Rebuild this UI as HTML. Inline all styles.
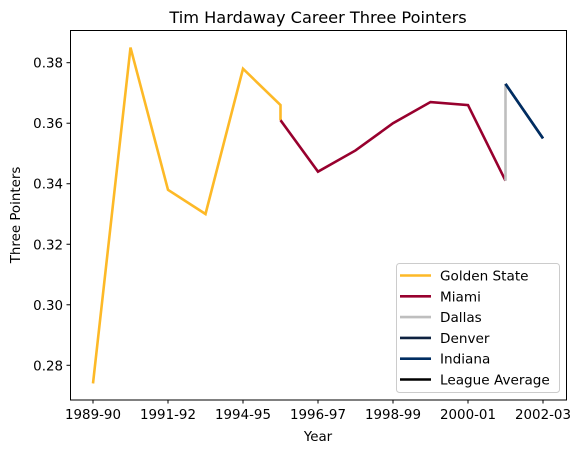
<!DOCTYPE html>
<html><head><meta charset="utf-8"><style>
body{margin:0;background:#fff}
svg{font-family:"DejaVu Sans","Liberation Sans",sans-serif;display:block}
</style></head><body>
<svg id="chart" width="582" height="453">
<text x="318" y="23" text-anchor="middle" font-size="16.2">Tim Hardaway Career Three Pointers</text>
<g id="plot"></g>
<rect x="70.5" y="30.5" width="496" height="369.5" fill="none" stroke="#000" stroke-width="1"/>
<text x="318" y="441" text-anchor="middle" font-size="13.4">Year</text>
<text transform="translate(20,215) rotate(-90)" text-anchor="middle" font-size="13.4">Three Pointers</text>
<g>
<rect x="396.5" y="263.5" width="163" height="129" rx="3" fill="#fff" fill-opacity="0.8" stroke="#ccc"/>
<g id="legend-items"></g>
</g>
</svg>
<script>
const xTickLabels=["1989-90","1991-92","1994-95","1996-97","1998-99","2000-01","2002-03"];
const xTickIdx=[0,2,4,6,8,10,12];
const yTicks=[0.28,0.30,0.32,0.34,0.36,0.38];
const seriesNames=["Golden State","Miami","Dallas","Denver","Indiana","League Average"];
const seriesColors=["#FDB927","#98002E","#BEBEBE","#0E2240","#002D62","#000000"];
const gsX=[0,1,2,3,4,5,5];
const gsY=[0.274,0.385,0.338,0.330,0.378,0.366,0.361];
const miaX=[5,6,7,8,9,10,11];
const miaY=[0.361,0.344,0.351,0.360,0.367,0.366,0.341];
const dalX=[11,11];
const dalY=[0.341,0.373];
const denX=[11,12];
const denY=[0.373,0.355];
const indX=[11,12];
const indY=[0.373,0.355];
const NS="http://www.w3.org/2000/svg";
const xs=i=>93+i*37.5;
const ys=v=>62.7+(0.38-v)*3026;
const plot=document.getElementById('plot');
function mk(t,a){const e=document.createElementNS(NS,t);for(const k in a)e.setAttribute(k,a[k]);return e;}
xTickIdx.forEach((ix,k)=>{
  const l=mk('line',{x1:xs(ix),x2:xs(ix),y1:400,y2:403.5,stroke:'#000'});
  
  
  plot.appendChild(l);
  const t=mk('text',{x:xs(ix),y:419,'text-anchor':'middle','font-size':'13.4'});
  t.textContent=xTickLabels[k];
  
  
  plot.appendChild(t);
});
yTicks.forEach(v=>{
  const l=mk('line',{x1:66.5,x2:70.5,y1:ys(v),y2:ys(v),stroke:'#000'});
  
  
  plot.appendChild(l);
  const t=mk('text',{x:63,y:ys(v)+5,'text-anchor':'end','font-size':'13.4'});
  t.textContent=v.toFixed(2);
  
  
  plot.appendChild(t);
});
const series=[[gsX,gsY,0],[miaX,miaY,1],[dalX,dalY,2],[denX,denY,3],[indX,indY,4]];
series.forEach(([X,Y,c])=>{
  const p=mk('polyline',{points:X.map((x,i)=>xs(x)+','+ys(Y[i])).join(' '),fill:'none',stroke:seriesColors[c],'stroke-width':2.6});
  
  
  plot.appendChild(p);
});
const lg=document.getElementById('legend-items');
seriesNames.forEach((n,i)=>{
  const y=275.5+i*20.8;
  const l=mk('line',{x1:400,x2:431,y1:y,y2:y,stroke:seriesColors[i],'stroke-width':2.6});
  
  
  lg.appendChild(l);
  const t=mk('text',{x:440,y:y+5,'font-size':'13.6'});
  t.textContent=n;
  
  
  lg.appendChild(t);
});
</script>
</body></html>
